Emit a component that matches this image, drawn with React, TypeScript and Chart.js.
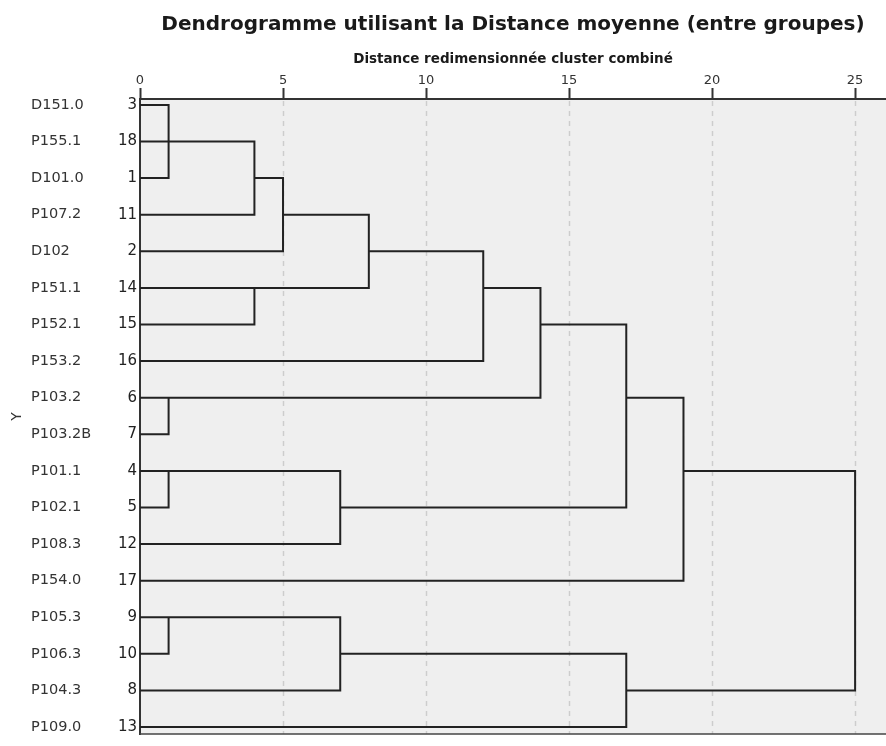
import { useEffect, useRef } from "react"
import { Chart, registerables } from "chart.js"

Chart.register(...registerables)

// leaves, top to bottom
const leafLabels = [
  "D151.0", "P155.1", "D101.0", "P107.2", "D102", "P151.1", "P152.1", "P153.2", "P103.2",
  "P103.2B", "P101.1", "P102.1", "P108.3", "P154.0", "P105.3", "P106.3", "P104.3", "P109.0",
]
const caseNumbers = ["3", "18", "1", "11", "2", "14", "15", "16", "6", "7", "4", "5", "12", "17", "9", "10", "8", "13"]

// merge steps: the two rows joined and the rescaled distance of the join
const mergeRowA = [0, 8, 10, 14, 1, 5, 2, 10, 14, 3, 4, 5, 6, 15, 8, 10]
const mergeRowB = [2, 9, 11, 15, 3, 6, 4, 12, 16, 5, 7, 8, 11, 17, 13, 16]
const mergeDist = [1, 1, 1, 1, 4, 4, 5, 7, 7, 8, 12, 14, 17, 17, 19, 25]

const distanceTicks = [0, 5, 10, 15, 20, 25]

const FONT = "'DejaVu Sans', sans-serif"

function buildLinks() {
  const reach = leafLabels.map(() => 0)
  const used = leafLabels.map(() => false)
  const points: { x: number | null; y: number | null }[] = []
  mergeDist.forEach((d, i) => {
    const a = mergeRowA[i]
    const b = mergeRowB[i]
    const xa = used[a] ? reach[a] : 0
    const xb = used[b] ? reach[b] : 0
    used[a] = true
    used[b] = true
    points.push({ x: xa, y: a }, { x: d, y: a }, { x: d, y: b }, { x: xb, y: b }, { x: null, y: null })
    reach[Math.floor((a + b) / 2)] = d
  })
  return points
}

// plot background, dashed guides and bottom edge
const plotFrame = {
  id: "plotFrame",
  beforeDraw(chart: any) {
    const { ctx, chartArea } = chart
    ctx.save()
    ctx.fillStyle = "#efefef"
    ctx.fillRect(chartArea.left, chartArea.top, chartArea.right - chartArea.left, chartArea.bottom - chartArea.top)
    ctx.restore()
  },
  beforeDatasetsDraw(chart: any) {
    const { ctx, chartArea, scales } = chart
    ctx.save()
    ctx.strokeStyle = "#cdcdcd"
    ctx.lineWidth = 1.5
    ctx.setLineDash([5, 5])
    distanceTicks.slice(1).forEach((v) => {
      const x = Math.round(scales.x.getPixelForValue(v)) + 0.5
      ctx.beginPath()
      ctx.moveTo(x, chartArea.top + 2)
      ctx.lineTo(x, chartArea.bottom)
      ctx.stroke()
    })
    ctx.setLineDash([])
    ctx.strokeStyle = "#444"
    ctx.lineWidth = 1.5
    ctx.beginPath()
    ctx.moveTo(chartArea.left, chartArea.bottom)
    ctx.lineTo(chartArea.right, chartArea.bottom)
    ctx.stroke()
    ctx.restore()
  },
}

const rowScale = {
  type: "linear" as const,
  position: "left" as const,
  reverse: true,
  min: -0.162,
  max: 17.19,
  afterBuildTicks: (s: any) => {
    s.ticks = leafLabels.map((_, i) => ({ value: i }))
  },
}

export default function App() {
  const chartRef = useRef<HTMLCanvasElement>(null)
  const chartInstance = useRef<Chart | null>(null)

  useEffect(() => {
    document.body.style.margin = "0"
    if (!chartRef.current) return
    if (chartInstance.current) chartInstance.current.destroy()

    Chart.defaults.font.family = FONT
    Chart.defaults.color = "#222"

    const ctx = chartRef.current.getContext("2d")
    if (!ctx) return

    chartInstance.current = new Chart(ctx, {
      type: "line",
      data: {
        datasets: [
          {
            data: buildLinks() as any,
            borderColor: "#222",
            borderWidth: 2,
            pointRadius: 0,
            spanGaps: false,
            tension: 0,
            borderJoinStyle: "miter",
            borderCapStyle: "square",
          },
        ],
      },
      options: {
        animation: false,
        responsive: true,
        maintainAspectRatio: false,
        layout: { padding: { left: 0, right: 0, top: 0, bottom: 4 } },
        plugins: {
          legend: { display: false },
          tooltip: { enabled: false },
          title: {
            display: true,
            fullSize: false,
            text: "Dendrogramme utilisant la Distance moyenne (entre groupes)",
            color: "#1a1a1a",
            font: { family: FONT, size: 20, weight: "bold" },
            padding: { top: 13, bottom: 7 },
          },
        },
        scales: {
          x: {
            type: "linear",
            position: "top",
            min: 0,
            max: 26.08,
            afterBuildTicks: (s: any) => {
              s.ticks = distanceTicks.map((value) => ({ value }))
            },
            afterFit: (s: any) => {
              s.height = 55
            },
            ticks: { color: "#333", font: { size: 13 }, padding: 0, maxRotation: 0 },
            grid: { drawOnChartArea: false, drawTicks: true, tickLength: 11, tickColor: "#333", tickWidth: 2 },
            border: { display: true, color: "#333", width: 2 },
            title: {
              display: true,
              text: "Distance redimensionnée cluster combiné",
              color: "#1a1a1a",
              font: { size: 13.5, weight: "bold" },
              padding: { top: 7, bottom: 0 },
            },
          },
          y: {
            ...rowScale,
            weight: 0,
            afterFit: (s: any) => {
              s.width = 30
            },
            ticks: {
              autoSkip: false,
              color: "#222",
              font: { size: 15 },
              padding: 3,
              callback: (_v: any, i: number) => caseNumbers[i],
            },
            grid: { display: false, drawTicks: false },
            border: { display: true, color: "#333", width: 2 },
          },
          yn: {
            ...rowScale,
            weight: 1,
            afterFit: (s: any) => {
              s.width = 79
            },
            ticks: {
              autoSkip: false,
              crossAlign: "far",
              color: "#333",
              font: { size: 14.5 },
              callback: (_v: any, i: number) => leafLabels[i],
            },
            grid: { display: false, drawTicks: false },
            border: { display: false },
          },
          yt: {
            ...rowScale,
            weight: 2,
            afterFit: (s: any) => {
              s.width = 31
            },
            ticks: { display: false },
            grid: { display: false, drawTicks: false },
            border: { display: false },
            title: { display: true, text: "Y", color: "#333", font: { size: 14 }, padding: { top: 9, bottom: 0 } },
          },
        },
      },
      plugins: [plotFrame],
    })

    return () => {
      if (chartInstance.current) {
        chartInstance.current.destroy()
        chartInstance.current = null
      }
    }
  }, [])

  return (
    <div style={{ width: 886, height: 746, position: "relative" }}>
      <canvas ref={chartRef} />
    </div>
  )
}
